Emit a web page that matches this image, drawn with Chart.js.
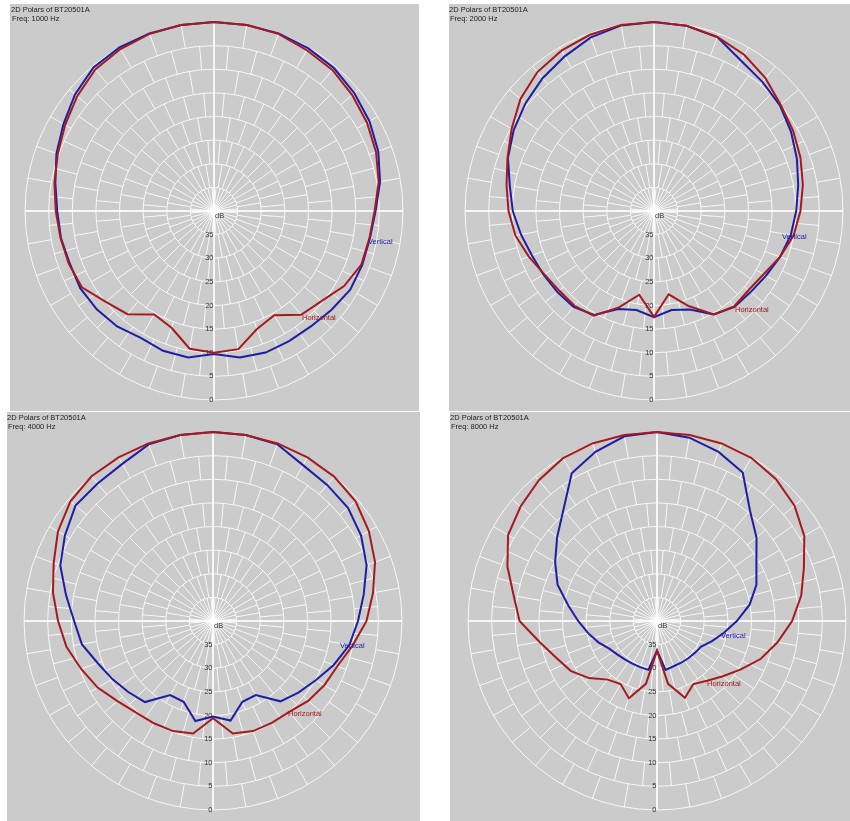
<!DOCTYPE html>
<html>
<head>
<meta charset="utf-8">
<title>2D Polars of BT20501A</title>
<script src="https://cdn.jsdelivr.net/npm/chart.js@4.4.1/dist/chart.umd.min.js"></script>
<style>
  html, body { margin: 0; padding: 0; background: #ffffff; }
  body { width: 850px; height: 821px; position: relative; overflow: hidden; }
  .panel { position: absolute; background: #cbcbcb; }
</style>
</head>
<body>
<div class="panel" style="left:10px;top:4px;width:409px;height:407px"><canvas id="c1000"></canvas></div>
<div class="panel" style="left:449px;top:4px;width:401px;height:407px"><canvas id="c2000"></canvas></div>
<div class="panel" style="left:7px;top:412px;width:413px;height:409px"><canvas id="c4000"></canvas></div>
<div class="panel" style="left:450px;top:412px;width:400px;height:409px"><canvas id="c8000"></canvas></div>
<script>
// Measurement angles in degrees, 0 = on axis, clockwise
const angles = [0,10,20,30,40,50,60,70,80,90,100,110,120,130,140,150,160,170,
                180,190,200,210,220,230,240,250,260,270,280,290,300,310,320,330,340,350];

// Level below on-axis (dB) at each angle
const horizontal1000 = [0,0,0.1,0.7,1.0,1.8,2.6,3.5,4.6,6.0,6.6,6.8,8.2,10.3,11.3,14.5,13.4,10.3,
                        10.0,10.4,13.7,14.7,11.5,10.1,7.7,7.3,7.0,6.5,5.7,4.8,3.6,2.2,0.9,0.4,0.1,0];
const vertical1000   = [0,0,0,0.2,0.5,1.2,2.0,3.0,4.3,5.8,6.5,6.6,6.7,7.5,8.1,8.2,8.1,8.5,
                        9.7,8.5,8.5,9.0,8.1,7.6,7.3,7.5,7.1,6.8,5.9,4.5,3.2,1.6,0.3,0,0,0];

const horizontal2000 = [0,0.2,0.8,1.8,3.3,5.0,6.0,7.0,8.0,9.0,10.0,11.6,13.2,13.9,13.6,14.7,18.6,22.1,
                        17.6,22.0,18.3,14.4,13.8,13.8,13.2,11.8,10.2,9.2,8.3,7.0,5.2,3.1,1.6,0.8,0.3,0];
const vertical2000   = [0,0.2,0.8,3.2,4.3,5.2,6.5,7.8,9.0,9.9,10.6,11.6,12.6,13.3,13.5,14.7,17.8,18.7,
                        17.5,18.7,17.9,14.6,13.5,13.3,13.0,12.5,11.4,10.1,9.0,7.1,5.7,4.5,3.3,2.2,0.9,0.1];

const horizontal4000 = [0,0,0,0,0.1,0.6,1.9,3.5,5.6,7.5,10.0,12.0,12.8,13.7,14.9,15.1,15.2,15.8,
                        19.4,15.8,15.2,15.0,14.7,13.6,11.8,10.3,8.5,7.2,5.6,4.1,2.1,0.6,0,0,0,0];
const vertical4000   = [0,0,0.2,1.9,2.4,2.7,3.8,5.4,7.6,9.3,10.7,12.8,14.9,16.4,17.8,21.9,21.8,18.6,
                        19.8,18.5,21.8,21.9,17.6,16.6,15.4,14.0,11.8,10.6,8.4,5.6,3.8,2.0,2.0,1.6,0.2,0];

const horizontal8000 = [0,0,0,0.1,0.8,2.0,4.0,6.9,9.0,11.4,14.1,16.6,19.5,21.8,23.5,24.6,22.7,26.5,
                        33.7,26.5,22.6,24.6,23.8,21.2,18.9,17.3,14.7,10.9,9.2,6.3,3.6,2.3,1.1,0.2,0,0];
const vertical8000   = [0,0.6,1.9,3.7,9.4,12.5,15.7,17.6,20.1,23.1,25.6,27.6,29.2,29.5,29.7,29.8,29.8,29.5,
                        33.7,29.5,29.6,29.6,29.4,29.0,28.3,26.8,25.2,23.3,20.9,17.6,15.1,12.4,9.2,3.9,1.9,0.3];

// Ring values printed along the downward axis
const ringLabels = [0,5,10,15,20,25,30,35];

const deviceName = 'BT20501A';
const RED = 'rgb(165,26,30)';
const BLUE = 'rgb(30,30,165)';
const GRID = 'rgba(255,255,255,0.85)';
const FONT = '"Liberation Sans", Arial, sans-serif';

// Staggered radial segments between neighbouring rings (brick-style polar grid)
const brickGrid = {
  id: 'brickGrid',
  beforeDatasetsDraw(chart) {
    const ctx = chart.ctx, s = chart.scales.r;
    const n = angles.length;
    ctx.save();
    ctx.strokeStyle = GRID;
    ctx.lineWidth = 1;
    ctx.beginPath();
    for (let b = 0; b < ringLabels.length; b++) {
      const outer = s.getDistanceFromCenterForValue(ringLabels[b]);
      const inner = s.getDistanceFromCenterForValue(ringLabels[b] + 5);
      const shift = (b % 2) ? 0.5 : 0;
      for (let i = 0; i < n; i++) {
        if (!shift && i % 9 === 0) continue;
        const a = s.getPointPosition(i + shift, inner);
        const z = s.getPointPosition(i + shift, outer);
        ctx.moveTo(a.x, a.y);
        ctx.lineTo(z.x, z.y);
      }
    }
    ctx.stroke();
    ctx.restore();
  }
};

// Text drawn on each polar panel: heading, dB ring values and curve names
const polarText = {
  id: 'polarText',
  beforeDatasetsDraw(chart) {
    const ctx = chart.ctx, s = chart.scales.r;
    ctx.save();
    ctx.font = '7.5px ' + FONT;
    ctx.fillStyle = '#333';
    ctx.textAlign = 'right';
    ctx.textBaseline = 'middle';
    const down = angles.indexOf(180);
    ringLabels.forEach(v => {
      const p = s.getPointPositionForValue(down, v);
      ctx.fillText(String(v), p.x - 0.5, p.y);
    });
    ctx.textAlign = 'left';
    ctx.fillText('dB', s.xCenter + 1, s.yCenter + 5);
    ctx.restore();
  },
  afterDatasetsDraw(chart, args, opts) {
    const ctx = chart.ctx, s = chart.scales.r;
    ctx.save();
    ctx.font = '7.5px ' + FONT;
    ctx.textBaseline = 'middle';
    ctx.textAlign = 'left';
    ctx.fillStyle = '#222';
    ctx.fillText('2D Polars of ' + deviceName, opts.tx, opts.ty);
    ctx.fillText('Freq: ' + opts.freq + ' Hz', opts.tx + 1, opts.ty + 9);
    ctx.fillStyle = BLUE;
    ctx.fillText('Vertical', s.xCenter + opts.v[0], s.yCenter + opts.v[1]);
    ctx.fillStyle = RED;
    ctx.fillText('Horizontal', s.xCenter + opts.h[0], s.yCenter + opts.h[1]);
    ctx.restore();
  }
};

function makePolar(id, freq, hData, vData, pad, text) {
  return new Chart(document.getElementById(id), {
    type: 'radar',
    data: {
      labels: angles,
      datasets: [
        { label: 'Horizontal', data: hData, borderColor: RED, borderWidth: 2, fill: false,
          pointRadius: 0, pointHoverRadius: 0, tension: 0 },
        { label: 'Vertical', data: vData, borderColor: BLUE, borderWidth: 2, fill: false,
          pointRadius: 0, pointHoverRadius: 0, tension: 0 }
      ]
    },
    options: {
      responsive: true,
      maintainAspectRatio: false,
      animation: false,
      events: [],
      layout: { padding: pad },
      plugins: {
        legend: { display: false },
        tooltip: { enabled: false },
        polarText: Object.assign({ freq: freq }, text)
      },
      scales: {
        r: {
          min: -0.01,
          max: 40,
          reverse: true,
          afterBuildTicks: sc => { sc.ticks = [0,5,10,15,20,25,30,35,40].map(v => ({ value: v })); },
          ticks: { display: false },
          pointLabels: { display: false },
          grid: { circular: true, color: GRID, lineWidth: 1 },
          angleLines: {
            color: c => (c.index % 9 === 0 ? GRID : 'rgba(0,0,0,0)'),
            lineWidth: 2
          }
        }
      }
    },
    plugins: [brickGrid, polarText]
  });
}

makePolar('c1000', 1000, horizontal1000, vertical1000,
  { left: 15, top: 18, right: 16, bottom: 11 },
  { tx: 1, ty: 6, v: [154, 31], h: [88, 107] });
makePolar('c2000', 2000, horizontal2000, vertical2000,
  { left: 16, top: 18, right: 7, bottom: 11 },
  { tx: 0, ty: 6, v: [128, 26], h: [81, 99] });
makePolar('c4000', 4000, horizontal4000, vertical4000,
  { left: 17, top: 20, right: 18, bottom: 11 },
  { tx: 0, ty: 6, v: [127, 25], h: [75, 93] });
makePolar('c8000', 8000, horizontal8000, vertical8000,
  { left: 18, top: 20, right: 4, bottom: 11 },
  { tx: 0, ty: 6, v: [64, 15], h: [50, 63] });
</script>
</body>
</html>
